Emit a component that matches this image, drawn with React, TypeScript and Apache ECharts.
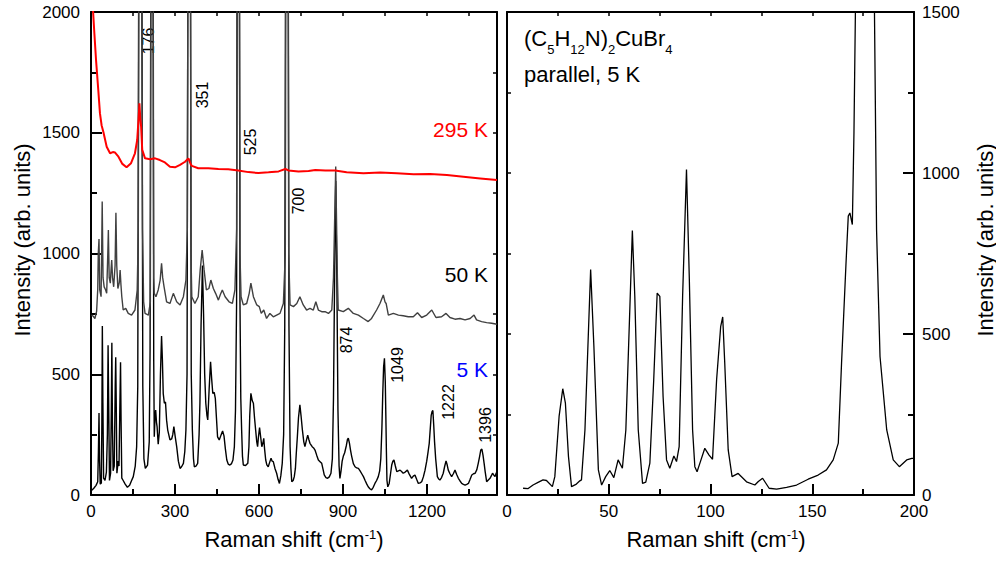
import React, { useEffect, useRef } from 'react';
import * as echarts from 'echarts';

const FONT = '"Liberation Sans", Arial, Helvetica, sans-serif';

// ---------- Left panel data: Raman shift (cm-1) vs intensity (arb. units) ----------
const spec5K: [number, number][] = [
  [3, 20], [10, 28], [18, 40], [24, 55], [26.5, 180], [28.6, 340], [30.5, 150], [33, 45], [37, 50], [38.8, 300],
  [40.5, 700], [42.5, 380], [45, 70], [50, 60], [55, 95], [58.5, 250], [61, 620], [63, 400], [66, 60], [70, 90],
  [72.5, 350], [74.5, 630], [76.5, 300], [79, 100], [83, 120], [86.5, 450], [88.3, 570], [90, 400], [92.5, 90],
  [97, 140], [100, 120], [103, 360], [105.5, 550], [107.5, 300], [110, 70], [115, 60], [122, 45], [130, 32],
  [138, 40], [145, 60], [151, 76], [158, 120], [163, 200], [167, 450], [176, 5000], [185, 450], [189, 150],
  [194, 110], [202, 124], [208, 220], [211, 600], [218, 5000], [224, 560], [226, 241], [229, 330], [231, 352],
  [234, 300], [236, 283], [240, 210], [244, 260], [248, 500], [252, 658], [255, 560], [258, 420], [262, 380],
  [266, 385], [270, 310], [274, 269], [282, 228], [288, 232], [292, 250], [296, 283], [301, 240], [306, 200],
  [312, 140], [318, 110], [324, 118], [330, 131], [335, 180], [339, 269], [343, 500], [351, 5000], [358, 500],
  [362, 269], [366, 150], [369, 117], [375, 120], [381, 131], [386, 250], [389, 380], [393, 700], [398, 950],
  [402, 750], [406, 500], [410, 380], [414, 330], [417, 311], [422, 440], [427, 552], [431, 480], [435, 420],
  [440, 425], [444, 400], [448, 320], [452, 241], [458, 228], [465, 250], [470, 265], [475, 245], [480, 190],
  [485, 145], [490, 128], [496, 124], [502, 130], [507, 145], [512, 200], [516, 350], [520, 800], [526, 5000],
  [532, 800], [535, 400], [538, 269], [541, 160], [544, 124], [552, 122], [560, 131], [564, 200], [567, 330],
  [571, 421], [576, 390], [580, 380], [584, 320], [588, 269], [592, 220], [595, 200], [598, 240], [602, 279],
  [606, 240], [610, 200], [614, 215], [617, 235], [620, 190], [624, 145], [628, 125], [633, 117], [638, 135],
  [643, 152], [647, 140], [651, 138], [657, 110], [663, 90], [668, 65], [673, 48], [678, 80], [683, 131],
  [688, 250], [692, 700], [700, 5000], [707, 700], [711, 200], [714, 110], [717, 55], [722, 60], [726, 76],
  [730, 110], [733, 170], [737, 241], [741, 320], [746, 373], [750, 330], [755, 269], [760, 220], [764, 200],
  [769, 225], [774, 248], [778, 230], [782, 214], [790, 200], [795, 195], [800, 186], [806, 165], [812, 145],
  [818, 138], [824, 131], [829, 105], [833, 83], [839, 72], [845, 69], [851, 75], [857, 90], [862, 150],
  [866, 400], [870, 900], [874, 1300], [878, 900], [882, 350], [886, 120], [889, 69], [893, 100], [897, 140],
  [901, 160], [906, 175], [912, 205], [916, 230], [919, 235], [923, 215], [927, 185], [931, 160], [937, 130],
  [943, 117], [949, 112], [955, 110], [961, 100], [967, 88], [973, 76], [979, 60], [985, 45], [990, 34],
  [996, 26], [1002, 21], [1008, 32], [1014, 48], [1020, 60], [1026, 76], [1031, 100], [1035, 150], [1039, 280],
  [1042, 420], [1045, 530], [1048, 566], [1051, 470], [1053, 330], [1055, 180], [1057, 60], [1060, 34],
  [1065, 48], [1070, 90], [1074, 124], [1078, 140], [1082, 145], [1087, 120], [1092, 97], [1098, 100],
  [1104, 103], [1110, 96], [1115, 90], [1122, 95], [1130, 103], [1137, 85], [1145, 69], [1151, 78], [1157, 83],
  [1163, 65], [1169, 48], [1175, 50], [1181, 55], [1187, 75], [1193, 103], [1199, 140], [1204, 180], [1208, 214],
  [1212, 280], [1215, 330], [1218, 345], [1221, 350], [1224, 290], [1227, 220], [1231, 150], [1237, 76],
  [1242, 66], [1246, 62], [1252, 72], [1258, 90], [1263, 118], [1268, 141], [1272, 125], [1276, 103], [1282, 88],
  [1288, 76], [1294, 88], [1300, 103], [1306, 85], [1312, 69], [1318, 58], [1324, 48], [1330, 44], [1336, 41],
  [1342, 44], [1348, 48], [1354, 65], [1360, 83], [1366, 88], [1372, 90], [1378, 105], [1383, 131], [1388, 160],
  [1392, 186], [1396, 190], [1400, 165], [1404, 131], [1408, 95], [1413, 55], [1419, 62], [1425, 69], [1430, 80],
  [1434, 90], [1439, 82], [1443, 76], [1447, 90], [1450, 97],
];

const spec50K: [number, number][] = [
  [2, 745], [8, 740], [14, 731], [20, 760], [24, 850], [26, 1000], [28.6, 1060], [31, 850], [36, 821], [38, 1000],
  [40, 1215], [43, 900], [47, 862], [52, 850], [56, 835], [60, 1000], [62, 1097], [65, 900], [69, 877], [72, 940],
  [74, 973], [77, 900], [81, 862], [86, 950], [89, 1169], [92, 950], [96, 855], [101, 880], [104, 932], [107, 870],
  [110, 821], [115, 766], [124, 773], [133, 752], [145, 745], [157, 766], [165, 849], [169, 1100], [176, 5000],
  [184, 1100], [188, 800], [193, 752], [205, 745], [212, 800], [218, 5000], [224, 900], [226, 835], [232, 821],
  [240, 849], [247, 890], [252, 959], [256, 900], [261, 862], [270, 800], [282, 793], [294, 835], [306, 800],
  [318, 787], [330, 821], [339, 890], [344, 1100], [351, 5000], [357, 1000], [360, 821], [371, 793], [383, 821],
  [390, 932], [397, 1014], [404, 932], [412, 849], [421, 855], [428, 890], [437, 855], [445, 835], [455, 807],
  [462, 830], [469, 849], [479, 821], [493, 800], [505, 793], [514, 849], [520, 1100], [526, 5000], [532, 1000],
  [536, 821], [544, 787], [556, 793], [565, 835], [571, 877], [580, 821], [592, 787], [601, 780], [608, 752],
  [617, 766], [627, 731], [639, 752], [651, 738], [663, 745], [675, 752], [687, 793], [694, 1000], [700, 5000],
  [706, 1000], [711, 787], [723, 780], [735, 793], [746, 821], [758, 787], [770, 766], [782, 773], [794, 766],
  [803, 800], [812, 766], [824, 759], [836, 759], [848, 752], [860, 766], [866, 900], [874, 1360], [880, 900],
  [883, 766], [901, 759], [919, 773], [937, 752], [955, 745], [973, 731], [990, 718], [1002, 731], [1020, 766],
  [1032, 793], [1044, 828], [1050, 800], [1054, 793], [1062, 745], [1080, 752], [1098, 745], [1115, 742],
  [1133, 738], [1151, 738], [1166, 755], [1181, 735], [1199, 745], [1217, 766], [1232, 735], [1252, 738],
  [1268, 752], [1282, 735], [1300, 728], [1318, 731], [1336, 725], [1354, 731], [1368, 745], [1377, 725],
  [1395, 718], [1413, 714], [1431, 711], [1450, 707],
];

const spec295K: [number, number][] = [
  [3, 2100], [5, 2050], [12, 1912], [18, 1801], [26, 1677], [32, 1580], [38, 1530], [44, 1504], [56, 1442],
  [68, 1415], [78, 1420], [86, 1418], [98, 1401], [112, 1371], [127, 1357], [143, 1374], [157, 1415], [165, 1470],
  [170, 1560], [173, 1622], [176, 1560], [179, 1525], [183, 1429], [193, 1394], [211, 1390], [229, 1394],
  [246, 1387], [264, 1377], [282, 1359], [300, 1357], [318, 1367], [336, 1380], [348, 1394], [356, 1370],
  [360, 1363], [383, 1353], [419, 1353], [455, 1350], [490, 1349], [526, 1344], [562, 1337], [598, 1333],
  [634, 1336], [670, 1340], [694, 1350], [705, 1344], [741, 1340], [777, 1342], [801, 1346], [837, 1344],
  [872, 1344], [913, 1336], [973, 1332], [1033, 1335], [1092, 1332], [1152, 1328], [1211, 1329], [1271, 1325],
  [1330, 1318], [1390, 1311], [1450, 1304],
];

// ---------- Right panel data: parallel polarisation, 5 K ----------
const parallel5K: [number, number][] = [
  [7.9, 21], [10.4, 20], [12.8, 31], [15.5, 40], [17.7, 47], [19.4, 45], [22.3, 26], [23.5, 57], [25.6, 244],
  [27.4, 330], [28.7, 285], [30.2, 120], [31.7, 26], [34.1, 34], [35.8, 44], [36.6, 47], [38.3, 202], [41.1, 700],
  [42.7, 461], [44.9, 78], [46.5, 31], [48.5, 57], [50.5, 76], [52.5, 54], [54.6, 109], [56.7, 83], [58.4, 202],
  [60.4, 586], [61.6, 821], [62.8, 617], [64.5, 202], [66.6, 36], [68.2, 40], [70.2, 99], [72.1, 358], [73.8, 627],
  [75.1, 617], [76.7, 306], [78.4, 109], [80, 83], [82, 121], [83.3, 104], [84.6, 150], [86.3, 617], [88.2, 1011],
  [89.6, 669], [91.2, 202], [92.3, 88], [93.4, 72], [94.8, 99], [97.2, 145], [99.3, 124], [101, 111], [103, 358],
  [105, 523], [106, 553], [107, 410], [108.7, 140], [110.6, 57], [113.6, 67], [117.7, 41], [121.8, 31],
  [123.5, 42], [125.6, 52], [128.8, 21], [132.5, 18], [137.4, 24], [142.3, 31], [148, 49], [152.9, 62], [157, 78],
  [160.3, 109], [162.8, 161], [164.4, 410], [166.6, 721], [167.7, 866], [168.5, 876], [169.7, 840], [170.5, 1126],
  [171.3, 1550], [176, 5000], [180.5, 1550], [181.6, 824], [183.3, 430], [186.6, 202], [189.8, 109], [192.8, 88],
  [196.4, 109], [198.9, 114], [200, 114],
];

// ---------- Axis scales and texts ----------
const leftX = { min: 0, max: 1450, major: 300, minor: 150 };
const leftY = { min: 0, max: 2000, major: 500, minor: 250 };
const rightX = { min: 0, max: 200, major: 50, minor: 25 };
const rightY = { min: 0, max: 1500, major: 500, minor: 250 };

const peakLabels = ['176', '351', '525', '700', '874', '1049', '1222', '1396'];
const tempLabels = ['295 K', '50 K', '5 K'];
const seriesNames = ['5 K', '50 K', '295 K'];
const xTitle = 'Raman shift (cm';
const xTitleSup = '-1';
const yTitle = 'Intensity (arb. units)';
const sampleNote = 'parallel, 5 K';

// ---------- Layout (pixels) ----------
const peakLabelPos = [[148, 41], [202, 95], [250, 142], [298, 201], [346, 340], [397, 365], [448, 402], [485, 425]];
const tempLabelPos = [[488, 129], [488, 274], [488, 369]];
const tempLabelColor = ['#ff0000', '#000000', '#0000ff'];

const black = '#000';

function xAxes(grid: number, s: { min: number; max: number; major: number; minor: number }, showMaxLabel: boolean) {
  const common = { gridIndex: grid, type: 'value', min: s.min, max: s.max, splitLine: { show: false } };
  return [
    {
      ...common, position: 'bottom', interval: s.major,
      axisLine: { show: true, onZero: false, lineStyle: { color: black, width: 2 } },
      axisTick: { show: true, inside: true, length: 11, lineStyle: { color: black, width: 2 } },
      axisLabel: {
        show: true, margin: 8, color: black, fontSize: 17, fontFamily: FONT, showMaxLabel,
        formatter: (v: number) => (v % s.major === 0 ? String(v) : ''),
      },
    },
    {
      ...common, position: 'bottom', interval: s.minor,
      axisLine: { show: false, onZero: false },
      axisTick: { show: true, inside: true, length: 6, lineStyle: { color: black, width: 2 } },
      axisLabel: { show: false },
    },
    {
      ...common, position: 'top', interval: s.minor,
      axisLine: { show: true, onZero: false, lineStyle: { color: black, width: 2 } },
      axisTick: { show: true, inside: true, length: 4, lineStyle: { color: black, width: 1.5 } },
      axisLabel: { show: false },
    },
  ];
}

function yAxes(grid: number, s: { min: number; max: number; major: number; minor: number }, side: 'left' | 'right', margin: number) {
  const other = side === 'left' ? 'right' : 'left';
  const common = { gridIndex: grid, type: 'value', min: s.min, max: s.max, splitLine: { show: false } };
  return [
    {
      ...common, position: side, interval: s.major,
      axisLine: { show: true, onZero: false, lineStyle: { color: black, width: 2 } },
      axisTick: { show: true, inside: true, length: 11, lineStyle: { color: black, width: 2 } },
      axisLabel: { show: true, margin, color: black, fontSize: 17, fontFamily: FONT, formatter: (v: number) => String(v) },
    },
    {
      ...common, position: side, interval: s.minor,
      axisLine: { show: false, onZero: false },
      axisTick: { show: true, inside: true, length: 6, lineStyle: { color: black, width: 2 } },
      axisLabel: { show: false },
    },
    {
      ...common, position: other, interval: s.minor,
      axisLine: { show: true, onZero: false, lineStyle: { color: black, width: 2 } },
      axisTick: { show: true, inside: true, length: 4, lineStyle: { color: black, width: 1.5 } },
      axisLabel: { show: false },
    },
  ];
}

function titleText(x: number, y: number) {
  return {
    type: 'text', x, y, silent: true,
    style: {
      text: `{a|${xTitle}}{s|${xTitleSup}}{a|)}`,
      align: 'center', verticalAlign: 'top', fill: black,
      fontFamily: FONT, fontSize: 22,
      rich: {
        a: { fontSize: 22, fontFamily: FONT, lineHeight: 25, verticalAlign: 'top', fill: black },
        s: { fontSize: 13, fontFamily: FONT, lineHeight: 13, padding: [0, 0, 0, 0], verticalAlign: 'top', fill: black },
      },
    },
  };
}

export default function App() {
  const ref = useRef<HTMLDivElement>(null);

  useEffect(() => {
    if (!ref.current) return;
    const chart = echarts.init(ref.current, undefined, { renderer: 'svg' });

    const graphics: any[] = [];
    peakLabels.forEach((t, i) => {
      graphics.push({
        type: 'text', x: peakLabelPos[i][0], y: peakLabelPos[i][1], rotation: Math.PI / 2, silent: true,
        style: { text: t, align: 'center', verticalAlign: 'middle', fill: black, fontFamily: FONT, fontSize: 16 },
      });
    });
    tempLabels.forEach((t, i) => {
      graphics.push({
        type: 'text', x: tempLabelPos[i][0], y: tempLabelPos[i][1], silent: true,
        style: { text: t, align: 'right', verticalAlign: 'middle', fill: tempLabelColor[i], fontFamily: FONT, fontSize: 21 },
      });
    });
    graphics.push(titleText(294, 528));
    graphics.push(titleText(716, 528));
    graphics.push({
      type: 'text', x: 22, y: 240, rotation: Math.PI / 2, silent: true,
      style: { text: yTitle, align: 'center', verticalAlign: 'middle', fill: black, fontFamily: FONT, fontSize: 22 },
    });
    graphics.push({
      type: 'text', x: 985, y: 240, rotation: Math.PI / 2, silent: true,
      style: { text: yTitle, align: 'center', verticalAlign: 'middle', fill: black, fontFamily: FONT, fontSize: 22 },
    });
    graphics.push({
      type: 'text', x: 524, y: 27, silent: true,
      style: {
        text: '{n|(C}{s|5}{n|H}{s|12}{n|N)}{s|2}{n|CuBr}{s|4}',
        align: 'left', verticalAlign: 'top', fill: black, fontFamily: FONT, fontSize: 22,
        rich: {
          n: { fontSize: 22, fontFamily: FONT, lineHeight: 24, verticalAlign: 'top', fill: black },
          s: { fontSize: 13, fontFamily: FONT, lineHeight: 13, padding: [16, 0, 0, 0], verticalAlign: 'top', fill: black },
        },
      },
    });
    graphics.push({
      type: 'text', x: 524, y: 74, silent: true,
      style: { text: sampleNote, align: 'left', verticalAlign: 'middle', fill: black, fontFamily: FONT, fontSize: 22 },
    });

    const lineSeries = (name: string, data: [number, number][], color: string, width: number, xi: number, yi: number) => ({
      name, type: 'line', data, xAxisIndex: xi, yAxisIndex: yi, showSymbol: false, symbol: 'none',
      clip: true, silent: true, lineStyle: { color, width }, itemStyle: { color },
    });

    chart.setOption({
      animation: false,
      backgroundColor: '#fff',
      textStyle: { fontFamily: FONT },
      grid: [
        { left: 91, top: 12, width: 406, height: 483, containLabel: false },
        { left: 507, top: 12, width: 407, height: 483, containLabel: false },
      ],
      xAxis: [...xAxes(0, leftX, false), ...xAxes(1, rightX, true)],
      yAxis: [...yAxes(0, leftY, 'left', 11), ...yAxes(1, rightY, 'right', 8)],
      series: [
        lineSeries(seriesNames[0], spec5K, '#000000', 1.4, 0, 0),
        lineSeries(seriesNames[1], spec50K, '#404040', 1.4, 0, 0),
        lineSeries(seriesNames[2], spec295K, '#ff0000', 2, 0, 0),
        lineSeries('parallel 5 K', parallel5K, '#000000', 1.3, 3, 3),
      ],
      graphic: graphics,
    });

    return () => chart.dispose();
  }, []);

  return <div ref={ref} style={{ position: 'fixed', left: 0, top: 0, width: 996, height: 561, background: '#fff' }} />;
}
